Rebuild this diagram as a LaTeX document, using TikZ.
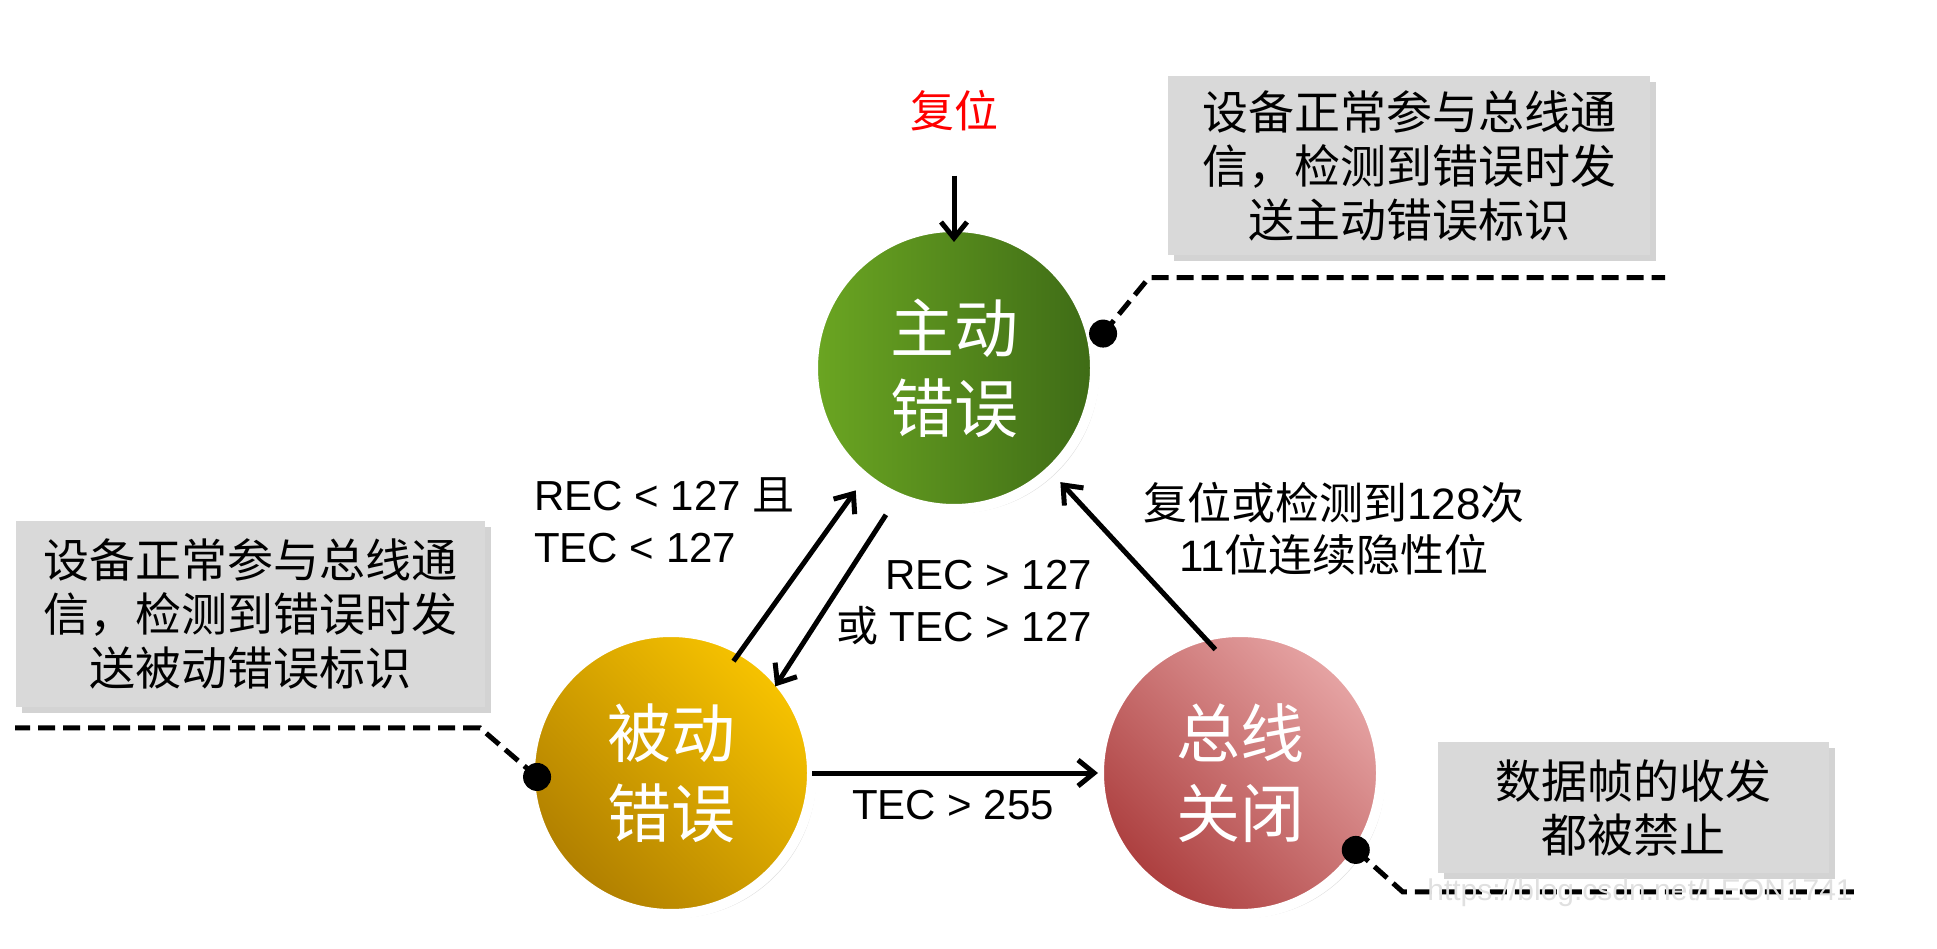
\documentclass[tikz,border=0pt]{standalone}
\usepackage{fontspec}
\setmainfont{Noto Sans CJK SC}
\newfontfamily\arial{Liberation Sans}
\usepackage{tikz}
\usetikzlibrary{positioning,shadows,arrows.meta,calc}

\definecolor{gnL}{HTML}{6BA622}
\definecolor{gnR}{HTML}{3E6B16}
\definecolor{ylD}{HTML}{B07F00}
\definecolor{ylL}{HTML}{F7C300}
\definecolor{rdD}{HTML}{AC3E3E}
\definecolor{rdL}{HTML}{E6A4A4}
\definecolor{boxgray}{HTML}{D9D9D9}

\begin{document}
\begin{tikzpicture}[x=1pt,y=1pt,on grid,
    status/.style={circle,minimum size=282pt,inner sep=0pt,draw=white,line width=10pt,
      text=white,align=center,font=\fontsize{64}{80}\selectfont,
      drop shadow={opacity=0.25,shadow xshift=4pt,shadow yshift=-4pt}},
    note/.style={fill=boxgray,inner sep=0pt,align=center,font=\fontsize{46}{54}\selectfont,
      drop shadow={opacity=0.35,shadow xshift=6pt,shadow yshift=-6pt}},
    cond/.style={inner sep=0pt,font=\fontsize{42}{52}\selectfont},
    link/.style={line width=5pt,-{Straight Barb[length=16pt,width=26pt]}},
    callout/.style={line width=5pt,dash pattern=on 17pt off 8pt}]
    \useasboundingbox (0,0) rectangle (1937,948);

    % the three states
    \node[status,left color=gnL,right color=gnR] (act) at (954,580) {主动\\错误};
    \node[status,left color=ylD,right color=ylL,shading angle=135] (pas) [below left=405pt and 283pt of act] {被动\\错误};
    \node[status,left color=rdD,right color=rdL,shading angle=135] (off) [right=569pt of pas] {总线\\关闭};

    % notes
    \node[note,minimum width=482pt,minimum height=179pt] (acttxt) at (1409,782.5) {设备正常参与总线通\\信，检测到错误时发\\送主动错误标识};
    \node[note,minimum width=469pt,minimum height=186pt] (pastxt) at (250.5,334) {设备正常参与总线通\\信，检测到错误时发\\送被动错误标识};
    \node[note,minimum width=391pt,minimum height=131pt] (offtxt) at (1633.5,140.5) {数据帧的收发\\都被禁止};

    % conditions
    \node[cond,text=red,font=\fontsize{44}{52}\selectfont] (rst) at (954,837) {复位};
    \node[cond,anchor=west,align=left] (up) at (534,428) {{\arial REC < 127 }且\\{\arial TEC < 127}};
    \node[cond,anchor=east,align=right] (down) at (1092,345) {{\arial REC > 127}\\或{\arial\ TEC > 127}};
    \node[cond] (busoff) at (953,143) {\arial TEC > 255};
    \node[cond,align=center,font=\fontsize{44}{52}\selectfont] (recover) at (1334,419) {复位或检测到{\arial 128}次\\{\arial 11}位连续隐性位};

    \path[link]
    (rst) edge[shorten <=44pt,shorten >=-20pt] (act)
    (pas.60) edge[shorten <=-18pt,shorten >=11pt] (act.231)
    (act.246) edge[shorten <=16pt,shorten >=-11pt] (pas.41)
    (pas.east) edge[shorten <=-5pt,shorten >=-4pt] (off.west)
    (off.106) edge[shorten <=-23pt,shorten >=10pt] (act.313);

    % callout lines
    \coordinate (actpin) at ($(act)+(13:153pt)$);
    \coordinate (paspin) at ($(pas)+(181.7:134pt)$);
    \coordinate (offpin) at ($(off)+(-33.6:139pt)$);
    \draw[callout] (actpin) -- ++(46,56) -- ++(516,0);
    \draw[callout] (paspin) -- ++(-57,49) -- ++(-465,0);
    \draw[callout] (offpin) -- ++(47,-42) -- ++(451,0);
    \fill (actpin) circle (14pt) (paspin) circle (14pt) (offpin) circle (14pt);

    \node[text=black!12,font=\arial\fontsize{30}{36}\selectfont] (mark) at (1640,55) {https://blog.csdn.net/LEON1741};
\end{tikzpicture}
\end{document}
